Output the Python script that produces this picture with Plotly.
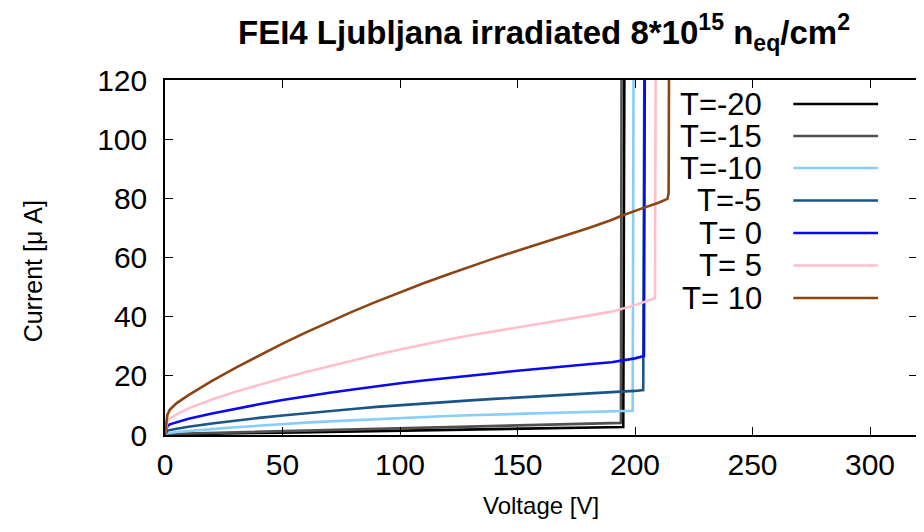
import plotly.graph_objects as go

# ---- data ----
V_m20 = [0, 1, 5, 10, 25, 50, 75, 100, 125, 150, 175, 195, 195.5]
I_m20 = [0, 0.1, 0.2, 0.3, 0.5, 0.8, 1.1, 1.4, 1.7, 2.0, 2.3, 2.7, 130]

V_m15 = [0, 1, 5, 10, 25, 50, 75, 100, 125, 150, 175, 194, 194.3]
I_m15 = [0, 0.2, 0.4, 0.5, 0.8, 1.2, 1.7, 2.2, 2.7, 3.1, 3.6, 4.1, 130]

V_m10 = [0, 1, 5, 10, 20, 30, 40, 50, 60, 70, 80, 90, 100, 110, 120, 130, 140,
         150, 160, 170, 180, 190, 199, 199.4]
I_m10 = [0, 0.6, 1.0, 1.4, 2.0, 2.6, 3.2, 3.7, 4.2, 4.6, 5.0, 5.4, 5.8, 6.1, 6.4,
         6.7, 6.95, 7.2, 7.4, 7.6, 7.8, 8.0, 8.2, 130]

V_m5 = [0, 1, 5, 10, 20, 30, 40, 50, 60, 70, 80, 90, 100, 110, 120, 130, 140,
        150, 160, 170, 180, 190, 200, 203.5, 204]
I_m5 = [0, 1.5, 2.1, 2.8, 3.9, 4.9, 5.8, 6.6, 7.4, 8.1, 8.8, 9.5, 10.1, 10.7,
        11.2, 11.7, 12.2, 12.7, 13.2, 13.6, 14.0, 14.5, 14.9, 15.2, 130]

V_0 = [0, 1, 2, 5, 10, 20, 30, 40, 50, 60, 70, 80, 90, 100, 110, 120, 130, 140,
       150, 160, 170, 180, 190, 200, 203.8, 204.2]
I_0 = [0, 3.0, 3.6, 4.4, 5.5, 7.3, 8.9, 10.4, 11.8, 13.1, 14.3, 15.4, 16.5, 17.5,
       18.4, 19.3, 20.1, 20.9, 21.7, 22.5, 23.2, 23.9, 24.6, 25.9, 26.7, 130]

V_5 = [0, 1, 2, 5, 10, 20, 30, 40, 50, 60, 70, 80, 90, 100, 110, 120, 130, 140,
       150, 160, 170, 180, 190, 200, 208.5, 208.8]
I_5 = [0, 4.5, 5.5, 7.0, 9.0, 12.0, 14.6, 17.0, 19.2, 21.3, 23.3, 25.2, 27.1,
       28.9, 30.6, 32.2, 33.7, 35.1, 36.4, 37.7, 39.0, 40.3, 41.7, 43.9, 46.2, 130]

V_10 = [0, 0.5, 1, 2, 5, 10, 20, 30, 40, 50, 60, 70, 80, 90, 100, 110, 120, 130,
        140, 150, 160, 170, 180, 190, 194, 203, 210, 213.8, 214.3, 214.5]
I_10 = [0, 4.5, 6.8, 8.5, 10.8, 13.5, 18.3, 22.7, 26.9, 30.9, 34.7, 38.3, 41.8,
        45.1, 48.3, 51.3, 54.2, 57.0, 59.7, 62.3, 64.8, 67.3, 69.9, 72.7, 74.0,
        76.6, 78.5, 79.8, 81.7, 130]

labels = ["T=-20", "T=-15", "T=-10", "T=-5", "T= 0", "T= 5", "T= 10"]
colors = ["#000000", "#505050", "#87cefa", "#1a5586", "#0a0aee", "#ffc0cb", "#8b4513"]
series_V = [V_m20, V_m15, V_m10, V_m5, V_0, V_5, V_10]
series_I = [I_m20, I_m15, I_m10, I_m5, I_0, I_5, I_10]

x_ticks = [0, 50, 100, 150, 200, 250, 300]
y_ticks = [0, 20, 40, 60, 80, 100, 120]

FONT = "Liberation Sans, Arial, Helvetica, sans-serif"

fig = go.Figure()
for V, I, c, lab in zip(series_V, series_I, colors, labels):
    fig.add_trace(go.Scatter(x=V, y=I, mode="lines", name=lab,
                             line=dict(color=c, width=2.6), showlegend=False))

OFF = 8  # page body margin
W, H = 913, 516
L, R, T, B = 157, 2, 72, 89
pw, ph = W - L - R, H - T - B

def px(xpix):
    return (xpix - OFF - L) / pw

def py(ypix):
    return 1 - (ypix - OFF - T) / ph

annotations = []
shapes = []
row_y = [104, 136, 168, 200.5, 233, 265.5, 298]
for lab, c, yy in zip(labels, colors, row_y):
    annotations.append(dict(x=px(766), y=py(yy), xref="paper", yref="paper",
                            text=lab, showarrow=False, xanchor="right", yanchor="middle",
                            font=dict(family=FONT, size=31, color="black")))
    shapes.append(dict(type="line", xref="paper", yref="paper",
                       x0=px(795), x1=px(880), y0=py(yy), y1=py(yy),
                       line=dict(color=c, width=2.6)))

annotations.append(dict(x=px(542), y=py(505), xref="paper", yref="paper",
                        text="Voltage [V]", showarrow=False, xanchor="center", yanchor="middle",
                        font=dict(family=FONT, size=24, color="black")))
annotations.append(dict(x=px(33), y=py(271), xref="paper", yref="paper",
                        text="Current [\u03bc A]", showarrow=False, textangle=-90,
                        xanchor="center", yanchor="middle",
                        font=dict(family=FONT, size=25, color="black")))
annotations.append(dict(x=px(545), y=py(33), xref="paper", yref="paper",
                        text="<b>FEI4 Ljubljana irradiated 8*10<sup>15</sup> n<sub>eq</sub>/cm<sup>2</sup></b>",
                        showarrow=False, xanchor="center", yanchor="middle",
                        font=dict(family=FONT, size=33, color="black")))

fig.update_layout(
    width=W, height=H,
    margin=dict(l=L, r=R, t=T, b=B),
    paper_bgcolor="white", plot_bgcolor="white",
    showlegend=False,
    annotations=annotations, shapes=shapes,
    font=dict(family=FONT, color="black"),
)
fig.update_xaxes(range=[0, 320], tickvals=x_ticks, ticks="inside", ticklen=8,
                 tickwidth=1.2, tickcolor="black", showline=True, linecolor="black",
                 linewidth=1.5, mirror="allticks", showgrid=False, zeroline=False,
                 tickfont=dict(family=FONT, size=30, color="black"), ticklabelstandoff=2)
fig.update_yaxes(range=[0, 120], tickvals=y_ticks, ticks="inside", ticklen=8,
                 tickwidth=1.2, tickcolor="black", showline=True, linecolor="black",
                 linewidth=1.5, mirror="allticks", showgrid=False, zeroline=False,
                 tickfont=dict(family=FONT, size=30, color="black"), ticklabelstandoff=10)

fig.write_html("out.html")
